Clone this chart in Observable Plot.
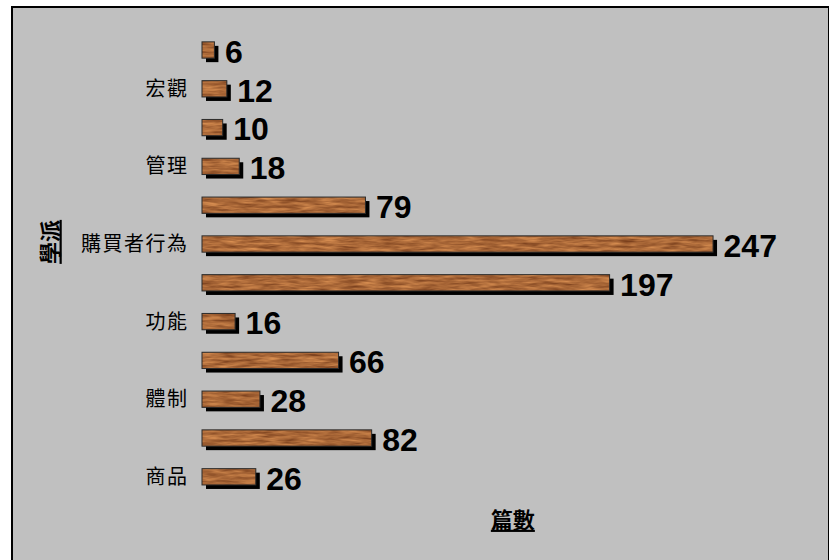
<!DOCTYPE html>
<html>
<head>
<meta charset="utf-8">
<script src="https://cdn.jsdelivr.net/npm/d3@7"></script>
<script src="https://cdn.jsdelivr.net/npm/@observablehq/plot@0.6"></script>
<style>
  html, body { margin: 0; padding: 0; background: #ffffff; width: 830px; height: 560px; overflow: hidden; }
  #frame { position: absolute; left: 11px; top: 6px; width: 815px; height: 560px;
           background: #c0c0c0; border-left: 2px solid #000; border-top: 2px solid #000; border-right: 1px solid #000; }
  #chart { position: absolute; left: 0; top: 0; }
</style>
</head>
<body>
<div id="frame"></div>
<div id="chart"></div>
<script>
// categories top to bottom (every other label shown in the reference)
const categoryKeys = ["c1","c2","c3","c4","c5","c6","c7","c8","c9","c10","c11","c12"];
const categoryLabels = ["", "宏觀", "", "管理", "", "購買者行為", "", "功能", "", "體制", "", "商品"];
const counts = [6, 12, 10, 18, 79, 247, 197, 16, 66, 28, 82, 26];
const xTitle = "篇數";
const yTitle = "學派";

const data = categoryKeys.map((k, i) => ({key: k, label: categoryLabels[i], value: counts[i]}));
const labelOf = new Map(data.map(d => [d.key, d.label]));

const cjk = "'Noto Sans CJK TC', 'Noto Sans CJK SC', sans-serif";
const latin = "'Liberation Sans', Arial, sans-serif";

const svg = Plot.plot({
  width: 830,
  height: 560,
  marginLeft: 202,
  marginRight: 7.3,
  marginTop: 30.6,
  marginBottom: 63.8,
  style: {background: "transparent", fontFamily: cjk, color: "#000"},
  x: {domain: [0, 300], axis: null},
  y: {domain: categoryKeys, paddingInner: 0.58, paddingOuter: 0.29, round: false, axis: null},
  marks: [
    // shadow
    Plot.barX(data, {y: "key", x: "value", fill: "#000", dx: 4, dy: 4}),
    // wood bars
    Plot.barX(data, {y: "key", x: "value", fill: "url(#wood)", stroke: "#2a2a2a", strokeWidth: 1}),
    // value labels
    Plot.text(data, {y: "key", x: "value", text: d => String(d.value), textAnchor: "start", dx: 10, dy: 2,
      fontSize: 32, fontWeight: "bold", fontFamily: latin, fill: "#000"}),
    // category axis
    Plot.axisY({tickSize: 0, tickPadding: 14, tickFormat: k => labelOf.get(k), fontSize: 20, label: null, fill: "#000"}),
    // axis titles
    Plot.text([xTitle], {frameAnchor: "bottom", dy: 24, lineAnchor: "middle", fontSize: 22, fontWeight: "bold", fill: "#000"}),
    Plot.text([yTitle], {frameAnchor: "left", dx: -152, rotate: -90, lineAnchor: "middle", fontSize: 22, fontWeight: "bold", fill: "#000"})
  ]
});

d3.select(svg).insert("defs", ":first-child").html(`
  <filter id="woodNoise" filterUnits="userSpaceOnUse" x="0" y="0" width="830" height="560" color-interpolation-filters="sRGB">
    <feTurbulence type="fractalNoise" baseFrequency="0.05 0.35" numOctaves="3" seed="7"/>
    <feColorMatrix type="matrix" values="0.5 0 0 0 0.42  0.42 0 0 0 0.2  0.28 0 0 0 0.08  0 0 0 0 1"/>
  </filter>
  <pattern id="wood" patternUnits="userSpaceOnUse" x="0" y="0" width="830" height="560">
    <rect width="830" height="560" filter="url(#woodNoise)"/>
  </pattern>`);

d3.select(svg).selectAll("text").filter(function() {
  const t = this.textContent; return t === xTitle || t === yTitle;
}).style("text-decoration", "underline");

d3.select(svg).selectAll("g[aria-label='y-axis tick label'] text").style("letter-spacing", "1.5px");

document.getElementById("chart").appendChild(svg);
</script>
</body>
</html>
